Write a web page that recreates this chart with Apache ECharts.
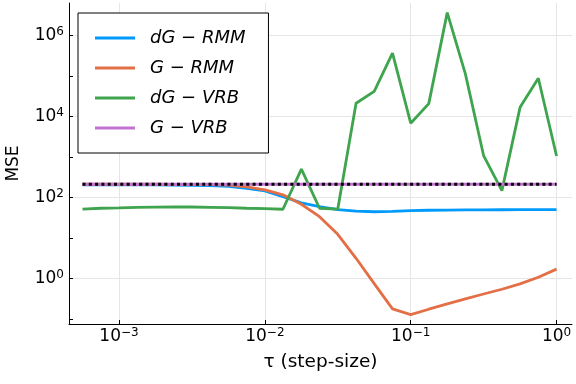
<!DOCTYPE html>
<html><head><meta charset="utf-8">
<script src="https://cdn.jsdelivr.net/npm/echarts@6/dist/echarts.min.js"></script>
<style>html,body{margin:0;padding:0;background:#fff}#c{width:576px;height:384px}</style>
</head><body><div id="c"></div>
<script>
// step sizes tau (1/8-decade grid)
const tau = [5.62e-4, 7.50e-4, 1.00e-3, 1.33e-3, 1.78e-3, 2.37e-3, 3.16e-3, 4.22e-3, 5.62e-3,
  7.50e-3, 1.00e-2, 1.33e-2, 1.78e-2, 2.37e-2, 3.16e-2, 4.22e-2, 5.62e-2, 7.50e-2,
  0.100, 0.133, 0.178, 0.237, 0.316, 0.422, 0.562, 0.750, 1.00];
const dG_RMM = [208, 208, 208, 208, 207, 206, 203, 199, 190, 170, 147, 106, 75, 60, 51,
  46.5, 45, 46, 48, 49, 49.5, 50, 50, 50.5, 51, 51, 51];
const G_RMM = [215, 215, 215, 215, 215, 214, 213, 211, 206, 186, 157, 118, 69, 34, 12.5,
  3.2, 0.76, 0.18, 0.13, 0.177, 0.24, 0.32, 0.42, 0.55, 0.75, 1.09, 1.73];
const dG_VRB = [52, 55, 56, 57.5, 58.5, 59, 59, 58, 57, 55, 54, 52, 507, 55, 52,
  21500, 42000, 370000, 6900, 21000, 3700000, 114000, 1100, 150, 17000, 89000, 1070];
const G_VRB = [215, 215, 215, 215, 215, 215, 215, 215, 215, 215, 215, 215, 215, 215, 215,
  215, 215, 215, 215, 215, 215, 215, 215, 215, 215, 215, 215];
const reference = [215, 215, 215, 215, 215, 215, 215, 215, 215, 215, 215, 215, 215, 215, 215,
  215, 215, 215, 215, 215, 215, 215, 215, 215, 215, 215, 215];
const seriesNames = ['dG − RMM', 'G − RMM', 'dG − VRB', 'G − VRB'];
const xTicks = [0.001, 0.01, 0.1, 1];
const yTicks = [1, 100, 1e4, 1e6];
const yMinorTicks = [0.1, 10, 1e3, 1e5];

const FONT = 'DejaVu Sans';
function pow10Label(v) {
  const e = Math.round(Math.log10(v));
  return '{b|10}{s|' + (e < 0 ? '\u2212' + (-e) : String(e)) + '}';
}
const labelRich = {
  b: { fontFamily: FONT, fontSize: 17, lineHeight: 20, color: '#000' },
  s: { fontFamily: FONT, fontSize: 12, lineHeight: 12, verticalAlign: 'top', color: '#000' }
};
const xMin = 4.54e-4, xMax = 1.276, yMin = 0.0764, yMax = 6.4e6;

const pair = (ys) => tau.map((t, i) => [t, ys[i]]);
const colors = ['#009AFA', '#E36F47', '#3EA44E', '#C371D2'];
const datasets = [dG_RMM, G_RMM, dG_VRB, G_VRB];

const series = datasets.map((d, k) => ({
  name: seriesNames[k], type: 'line', data: pair(d), symbol: 'none', showSymbol: false,
  lineStyle: { color: colors[k], width: 2.8 }, itemStyle: { color: colors[k] },
  emphasis: { disabled: true }, animation: false
}));
series.push({
  name: 'reference', type: 'line', data: pair(reference), symbol: 'none',
  lineStyle: { color: '#000', width: 3, type: [3, 3.3], cap: 'butt' },
  emphasis: { disabled: true }, animation: false
});

const chart = echarts.init(document.getElementById('c'), null, { renderer: 'canvas' });
chart.setOption({
  animation: false,
  backgroundColor: '#fff',
  grid: { left: 69, right: 4, top: 3, bottom: 60, containLabel: false, outerBoundsMode: 'none' },
  legend: {
    data: seriesNames, orient: 'vertical', left: 78, top: 13,
    padding: [15, 23, 15, 17], itemGap: 10, itemWidth: 40, itemHeight: 3, icon: 'rect',
    backgroundColor: '#fff', borderColor: '#000', borderWidth: 1, borderRadius: 0,
    selectedMode: false,
    textStyle: { fontFamily: FONT, fontStyle: 'italic', fontSize: 18, lineHeight: 20, color: '#000', padding: [0, 0, 0, 10] }
  },
  xAxis: {
    type: 'log', logBase: 10, min: xMin, max: xMax,
    name: 'τ (step-size)', nameLocation: 'middle', nameGap: 29,
    nameTextStyle: { fontFamily: FONT, fontSize: 18.5, color: '#000' },
    axisLine: { show: true, lineStyle: { color: '#000', width: 1 } },
    axisTick: { show: true, inside: true, length: 4, customValues: xTicks, lineStyle: { color: '#000' } },
    axisLabel: { customValues: xTicks, margin: 3, formatter: pow10Label, rich: labelRich },
    splitLine: { show: true, lineStyle: { color: '#e6e6e6', width: 1 } },
    minorTick: { show: false }
  },
  yAxis: [{
    type: 'log', logBase: 10, min: yMin, max: yMax, position: 'left',
    name: 'MSE', nameLocation: 'middle', nameGap: 47,
    nameTextStyle: { fontFamily: FONT, fontSize: 17, color: '#000' },
    axisLine: { show: true, lineStyle: { color: '#000', width: 1 } },
    axisTick: { show: true, inside: true, length: 4, customValues: yTicks, lineStyle: { color: '#000' } },
    axisLabel: { customValues: yTicks, margin: 5, formatter: pow10Label, rich: labelRich },
    splitLine: { show: true, lineStyle: { color: '#e6e6e6', width: 1 } }
  }, {
    type: 'log', logBase: 10, min: yMin, max: yMax, position: 'left',
    axisLine: { show: false },
    axisTick: { show: true, inside: true, length: 4, customValues: yMinorTicks, lineStyle: { color: '#000' } },
    axisLabel: { show: false },
    splitLine: { show: false }
  }],
  series: series
});
</script></body></html>
